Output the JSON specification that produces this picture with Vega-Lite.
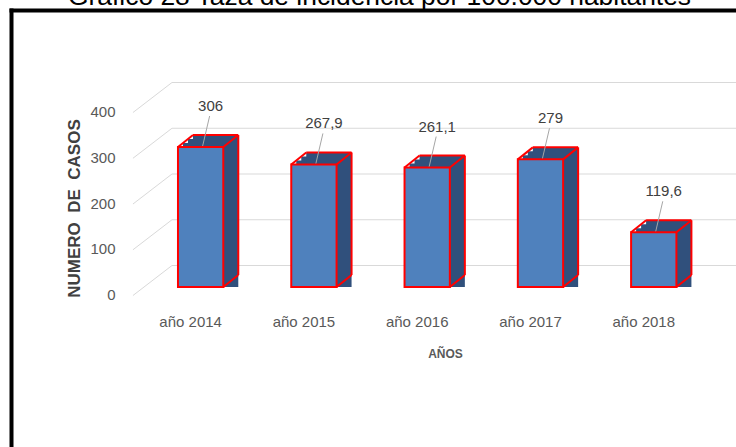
{
  "$schema": "https://vega.github.io/schema/vega-lite/v6.json",
  "width": 725,
  "height": 437,
  "autosize": {"type": "none"},
  "padding": {"left": 11, "top": 10, "right": 0, "bottom": 0},
  "title": {
    "text": "Gráfico 28 Taza de incidencia por 100.000 habitantes",
    "anchor": "start",
    "frame": "group",
    "dx": 57,
    "offset": -21,
    "font": "Liberation Sans",
    "fontSize": 26.4,
    "fontWeight": "normal",
    "color": "#000000",
    "baseline": "alphabetic"
  },
  "config": {
    "view": {"stroke": null},
    "font": "Liberation Sans",
    "locale": {"number": {"decimal": ",", "thousands": ".", "grouping": [3], "currency": ["", " €"]}}
  },
  "data": {
    "values": [
      {"year": "año 2014", "tasa": 306},
      {"year": "año 2015", "tasa": 267.9},
      {"year": "año 2016", "tasa": 261.1},
      {"year": "año 2017", "tasa": 279},
      {"year": "año 2018", "tasa": 119.6}
    ]
  },
  "layer": [
    {
      "data": {"values": [{"v": 0}, {"v": 100}, {"v": 200}, {"v": 300}, {"v": 400}]},
      "mark": {"type": "rule", "color": "#D9D9D9", "strokeWidth": 1, "yOffset": -21.5, "strokeDash": [564, 700]},
      "encoding": {"y": {"field": "v", "type": "quantitative"}}
    },
    {
      "data": {"values": [{"v": 0}, {"v": 100}, {"v": 200}, {"v": 300}, {"v": 400}]},
      "mark": {"type": "rule", "color": "#D9D9D9", "strokeWidth": 1, "xOffset": -45, "x2Offset": -6, "yOffset": 8.5, "y2Offset": -21.5},
      "encoding": {
        "x": {"datum": "año 2014", "type": "nominal", "bandPosition": 0},
        "x2": {"datum": "año 2014", "bandPosition": 0},
        "y": {"field": "v", "type": "quantitative"},
        "y2": {"field": "v"}
      }
    },
    {
      "mark": {"type": "bar", "fill": "#30507C", "xOffset": 5, "yOffset": -4},
      "encoding": {
        "x": {"field": "year", "type": "nominal", "sort": null},
        "y": {"field": "tasa", "type": "quantitative"},
        "y2": {"datum": 0}
      }
    },
    {
      "mark": {"type": "bar", "fill": "#30507C", "xOffset": 10, "yOffset": -8},
      "encoding": {
        "x": {"field": "year", "type": "nominal", "sort": null},
        "y": {"field": "tasa", "type": "quantitative"},
        "y2": {"datum": 0}
      }
    },
    {
      "mark": {"type": "bar", "fill": "#30507C", "xOffset": 15, "yOffset": -12},
      "encoding": {
        "x": {"field": "year", "type": "nominal", "sort": null},
        "y": {"field": "tasa", "type": "quantitative"},
        "y2": {"datum": 0}
      }
    },
    {
      "mark": {"type": "bar", "fill": "#4F81BD", "stroke": "#FF0000", "strokeWidth": 2},
      "encoding": {
        "x": {
          "field": "year",
          "type": "nominal",
          "sort": null,
          "scale": {"paddingInner": 0.6, "paddingOuter": 1.0222, "align": 0.737},
          "axis": {
            "orient": "top",
            "title": "AÑOS",
            "bandPosition": 0.5,
            "domain": true,
            "domainColor": "#000000",
            "domainWidth": 4,
            "domainCap": "square",
            "ticks": false,
            "grid": false,
            "labelAngle": 0,
            "labelAlign": "center",
            "labelPadding": -311,
            "labelBaseline": "middle",
            "labelOffset": -10,
            "labelFontSize": 15,
            "labelColor": "#595959",
            "labelFont": "Liberation Sans",
            "titleX": 434,
            "titleY": 343,
            "titleBaseline": "middle",
            "titleAlign": "center",
            "titleFontSize": 12,
            "titleFontWeight": "bold",
            "titleColor": "#595959",
            "titleFont": "Liberation Sans"
          }
        },
        "y": {
          "field": "tasa",
          "type": "quantitative",
          "scale": {"domain": [-349.7, 605.5], "nice": false, "zero": false},
          "axis": {
            "values": [0, 100, 200, 300, 400],
            "title": "NUMERO\u00a0\u00a0DE\u00a0\u00a0CASOS",
            "grid": false,
            "ticks": false,
            "domain": true,
            "domainColor": "#000000",
            "domainWidth": 4,
            "domainCap": "square",
            "labelPadding": -104,
            "labelOffset": 7.5,
            "labelFontSize": 15,
            "labelColor": "#595959",
            "labelFont": "Liberation Sans",
            "titleX": 63,
            "titleY": 198,
            "titleAngle": -90,
            "titleBaseline": "middle",
            "titleAlign": "center",
            "titleFontSize": 17,
            "titleFontWeight": "bold",
            "titleColor": "#404040",
            "titleFont": "Liberation Sans"
          }
        },
        "y2": {"datum": 0}
      }
    },
    {
      "mark": {"type": "rule", "color": "#FF0000", "strokeWidth": 2, "xOffset": 15, "x2Offset": 15, "yOffset": -12, "y2Offset": -12},
      "encoding": {
        "x": {"field": "year", "type": "nominal", "sort": null, "bandPosition": 0},
        "x2": {"field": "year", "bandPosition": 1},
        "y": {"field": "tasa", "type": "quantitative"},
        "y2": {"field": "tasa"}
      }
    },
    {
      "mark": {"type": "rule", "color": "#FF0000", "strokeWidth": 2, "xOffset": 15, "x2Offset": 15, "yOffset": -12, "y2Offset": -12},
      "encoding": {
        "x": {"field": "year", "type": "nominal", "sort": null, "bandPosition": 1},
        "x2": {"field": "year", "bandPosition": 1},
        "y": {"field": "tasa", "type": "quantitative"},
        "y2": {"datum": 0}
      }
    },
    {
      "mark": {"type": "rule", "color": "#FF0000", "strokeWidth": 2, "x2Offset": 15, "y2Offset": -12},
      "encoding": {
        "x": {"field": "year", "type": "nominal", "sort": null, "bandPosition": 0},
        "x2": {"field": "year", "bandPosition": 0},
        "y": {"field": "tasa", "type": "quantitative"},
        "y2": {"field": "tasa"}
      }
    },
    {
      "mark": {"type": "rule", "color": "#FF0000", "strokeWidth": 2, "x2Offset": 15, "y2Offset": -12},
      "encoding": {
        "x": {"field": "year", "type": "nominal", "sort": null, "bandPosition": 1},
        "x2": {"field": "year", "bandPosition": 1},
        "y": {"field": "tasa", "type": "quantitative"},
        "y2": {"field": "tasa"}
      }
    },
    {
      "mark": {"type": "rule", "color": "#FF0000", "strokeWidth": 2, "x2Offset": 15, "y2Offset": -12},
      "encoding": {
        "x": {"field": "year", "type": "nominal", "sort": null, "bandPosition": 1},
        "x2": {"field": "year", "bandPosition": 1},
        "y": {"datum": 0},
        "y2": {"datum": 0}
      }
    },
    {
      "mark": {"type": "rule", "color": "#A6A6A6", "strokeWidth": 1, "xOffset": 2, "x2Offset": 9, "yOffset": -1, "y2Offset": -31},
      "encoding": {
        "x": {"field": "year", "type": "nominal", "sort": null, "bandPosition": 0.5},
        "x2": {"field": "year", "bandPosition": 0.5},
        "y": {"field": "tasa", "type": "quantitative"},
        "y2": {"field": "tasa"}
      }
    },
    {
      "mark": {"type": "text", "fontSize": 15, "color": "#404040", "font": "Liberation Sans", "xOffset": 10, "yOffset": -41, "baseline": "middle", "align": "center"},
      "encoding": {
        "x": {"field": "year", "type": "nominal", "sort": null, "bandPosition": 0.5},
        "y": {"field": "tasa", "type": "quantitative"},
        "text": {"field": "tasa", "type": "quantitative", "format": "~g"}
      }
    }
  ]
}
